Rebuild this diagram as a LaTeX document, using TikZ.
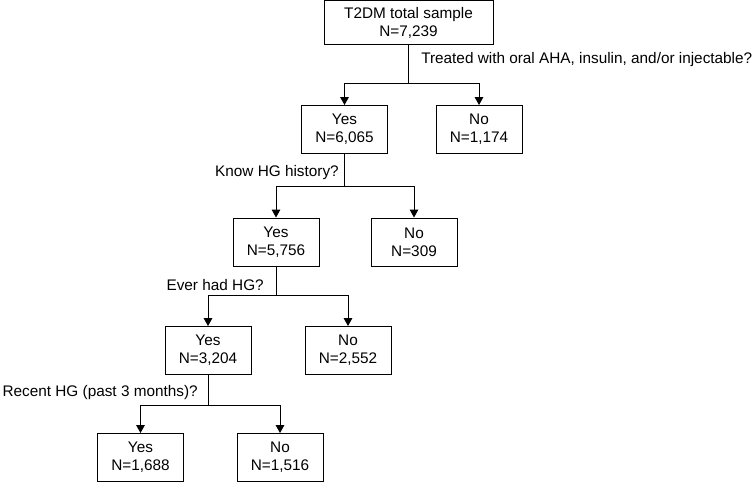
\documentclass[tikz,border=0pt]{standalone}
\usepackage{fontspec}
\setmainfont{Liberation Sans}
\usetikzlibrary{arrows.meta}
\begin{document}
\begin{tikzpicture}[x=0.75pt,y=-0.75pt,
  every node/.style={font=\fontsize{11.5}{13.5}\selectfont},
  box/.style={draw,line width=0.75pt,align=center,minimum width=64.5pt,minimum height=36pt,inner sep=0pt},
  topbox/.style={box,minimum width=126.75pt,minimum height=32.5pt},
  conn/.style={line width=0.75pt},
  arr/.style={conn,-{Triangle[width=6.5pt,length=6pt]}},
  q/.style={inner sep=0pt}]
\useasboundingbox (0,0) rectangle (755,483);
\node[topbox] (top) at (408.5,22.5) {T2DM total sample\\N=7,239};
\node[box] (yes1) at (344.5,129.5) {Yes\\N=6,065};
\node[box] (no1) at (479,129.5) {No\\N=1,174};
\node[box] (yes2) at (276,242) {Yes\\N=5,756};
\node[box] (no2) at (414,242) {No\\N=309};
\node[box] (yes3) at (208,350.5) {Yes\\N=3,204};
\node[box] (no3) at (348,350.5) {No\\N=2,552};
\node[box] (yes4) at (140.5,457.5) {Yes\\N=1,688};
\node[box] (no4) at (280,457.5) {No\\N=1,516};
\coordinate (b1) at (408.5,83);
\coordinate (b2) at (344.5,186);
\coordinate (b3) at (276,295);
\coordinate (b4) at (208,405);
\draw[conn] (top.south) -- (b1);
\draw[arr] (b1) -| (yes1.north);
\draw[arr] (b1) -| (no1.north);
\draw[conn] (yes1.south) -- (b2);
\draw[arr] (b2) -| (yes2.north);
\draw[arr] (b2) -| (no2.north);
\draw[conn] (yes2.south) -- (b3);
\draw[arr] (b3) -| (yes3.north);
\draw[arr] (b3) -| (no3.north);
\draw[conn] (yes3.south) -- (b4);
\draw[arr] (b4) -| (yes4.north);
\draw[arr] (b4) -| (no4.north);
\node[q,anchor=west] (q1) at (421,60) {Treated with oral AHA, insulin, and/or injectable?};
\node[q,anchor=east] (q2) at (339,173) {Know HG history?};
\node[q,anchor=east] (q3) at (264,285) {Ever had HG?};
\node[q,anchor=east] (q4) at (198,393) {Recent HG (past 3 months)?};
\end{tikzpicture}
\end{document}
